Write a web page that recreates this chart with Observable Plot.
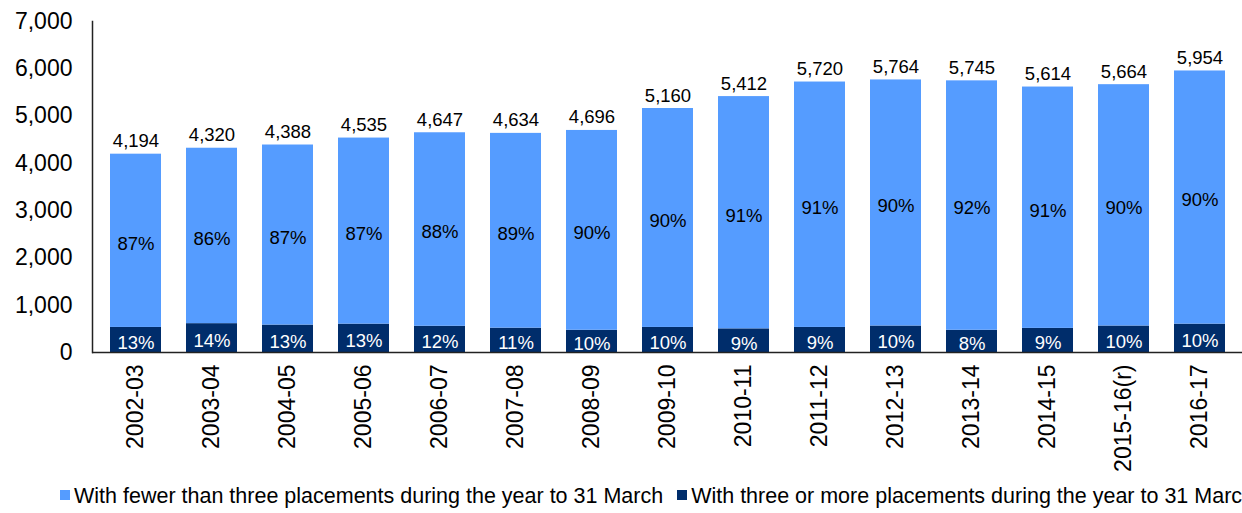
<!DOCTYPE html>
<html><head><meta charset="utf-8">
<script src="https://cdn.jsdelivr.net/npm/d3@7"></script>
<script src="https://cdn.jsdelivr.net/npm/@observablehq/plot@0.6"></script>
<style>
html,body{margin:0;padding:0;background:#fff;overflow:hidden;width:1242px;height:513px;}
#legend{font-family:"Liberation Sans",Arial,sans-serif;font-size:21.5px;color:#000;white-space:nowrap;height:33px;line-height:33px;padding-left:60px;}
.sw{display:inline-block;width:10px;height:10px;margin-right:4px;vertical-align:middle;position:relative;top:-2px;}
.it{margin-right:14px;}
</style></head>
<body>
<div id="chart"></div>
<div id="legend"></div>
<script>
const years = ["2002-03","2003-04","2004-05","2005-06","2006-07","2007-08","2008-09","2009-10","2010-11","2011-12","2012-13","2013-14","2014-15","2015-16(r)","2016-17"];
const totals = [4194,4320,4388,4535,4647,4634,4696,5160,5412,5720,5764,5745,5614,5664,5954];
const threeOrMore = [530,610,580,600,555,515,470,530,500,530,560,470,510,560,600];
const pctFewer = ["87%","86%","87%","87%","88%","89%","90%","90%","91%","91%","90%","92%","91%","90%","90%"];
const pctThree = ["13%","14%","13%","13%","12%","11%","10%","10%","9%","9%","10%","8%","9%","10%","10%"];
const seriesNames = ["With fewer than three placements during the year to 31 March","With three or more placements during the year to 31 March"];
const seriesColors = ["#559CFF","#002D6B"];

const rows = [];
years.forEach((y,i)=>{
  rows.push({year:y, series:seriesNames[1], value:threeOrMore[i], label:pctThree[i]});
});
years.forEach((y,i)=>{
  rows.push({year:y, series:seriesNames[0], value:totals[i]-threeOrMore[i], label:pctFewer[i]});
});
const fmt = d3.format(",");
const totalRows = years.map((y,i)=>({year:y,total:totals[i],label:fmt(totals[i])}));

const font = "'Liberation Sans', Arial, sans-serif";
const chart = Plot.plot({
  width:1242, height:480,
  marginTop:21, marginBottom:128, marginLeft:92, marginRight:0,
  style:{fontFamily:font, fontSize:"23px", color:"#000", background:"#fff"},
  x:{domain:years, paddingInner:0.33, paddingOuter:0.18, label:null, tickRotate:-90, tickSize:0, tickPadding:12},
  y:{domain:[0,7000], ticks:d3.range(0,7001,1000), tickFormat:fmt, label:null, tickSize:0, tickPadding:20},
  color:{domain:seriesNames, range:seriesColors},
  marks:[
    Plot.barY(rows, {x:"year", y:"value", fill:"series"}),
    Plot.text(rows, Plot.stackY({x:"year", y:"value", text:"label", fill:d=>d.series===seriesNames[1]?"#fff":"#000", fontSize:18.5, dy:3})),
    Plot.text(totalRows, {x:"year", y:"total", text:"label", lineAnchor:"bottom", dy:-7, fontSize:18.5, fill:"#000"}),
    Plot.ruleY([0], {stroke:"#222", strokeWidth:1.5}),
    Plot.frame({anchor:"left", stroke:"#222", strokeWidth:1.5})
  ]
});
document.getElementById("chart").appendChild(chart);

const leg = document.getElementById("legend");
seriesNames.forEach((n,i)=>{
  const s=document.createElement("span"); s.className="it";
  const sw=document.createElement("span"); sw.className="sw"; sw.style.background=seriesColors[i];
  s.appendChild(sw); s.appendChild(document.createTextNode(n)); leg.appendChild(s);
});
</script>
</body></html>
